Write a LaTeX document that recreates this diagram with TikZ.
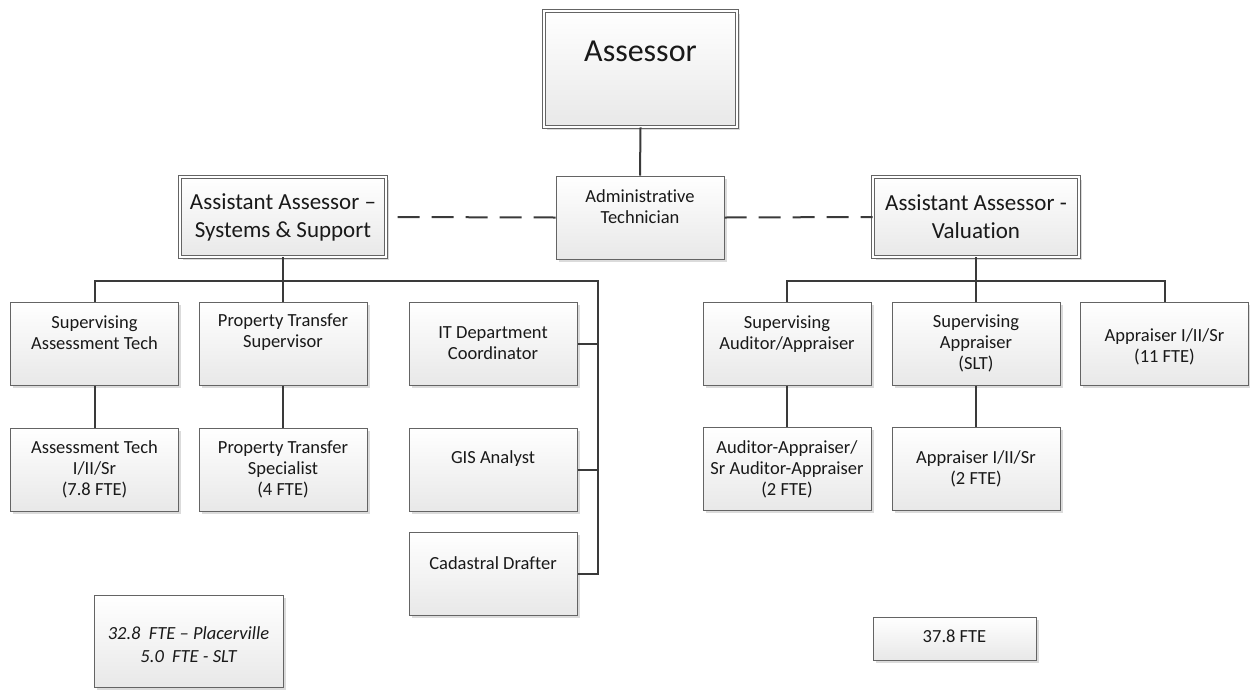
\documentclass[tikz,border=0pt]{standalone}
\usepackage{fontspec}
\setmainfont{Carlito}[Ligatures={NoCommon}]
\usetikzlibrary{shadows}
\definecolor{boxline}{HTML}{646464}
\definecolor{linkline}{HTML}{3A3A3A}
\begin{document}
\begin{tikzpicture}[x=1pt, y=-1pt]
        \tikzset{
          unit/.style = {draw=boxline, line width=1pt, inner sep=0pt, top color=white, bottom color=black!9,
                         minimum width=168pt, minimum height=83pt,
                         drop shadow={shadow xshift=2.5pt, shadow yshift=-2.5pt, fill=black!40, opacity=0.35}},
          boss/.style = {unit, double=white, double distance=2.4pt, line width=0.8pt},
          tx/.style = {align=center, inner sep=0pt, text=black!90, font=\fontsize{18.5}{21}\selectfont},
          link/.style = {draw=linkline, line width=2pt},
          staff/.style = {link, dash pattern=on 22pt off 12pt}
        }
        \useasboundingbox (0,0) rectangle (1250,689);

        % top
        \node[boss, minimum width=193pt, minimum height=116pt,
              label={[tx, font=\fontsize{32}{38}\selectfont, yshift=18pt]center:Assessor}] (asr) at (640.5,69) {};
        \node[unit, label={[tx, yshift=11pt]center:{Administrative\\Technician}}] (adm) at (640,217.5) {};
        \node[boss, minimum width=206pt, minimum height=80pt,
              label={[tx, font=\fontsize{23}{28}\selectfont]center:{Assistant Assessor --\\Systems \& Support}}] (laa) at (283,217) {};
        \node[boss, minimum width=206pt, minimum height=80pt,
              label={[tx, font=\fontsize{23}{28}\selectfont]center:{Assistant Assessor -\\Valuation}}] (raa) at (976,217) {};

        % systems & support
        \node[unit, label={[tx, yshift=11pt]center:{Supervising\\Assessment Tech}}] (sat) at (94.5,343.5) {};
        \node[unit, label={[tx, yshift=11pt]center:{Property Transfer\\Supervisor}}] (pts) at (283,343.5) {};
        \node[unit, label={[tx]center:{IT Department\\Coordinator}}] (itc) at (493,343.5) {};
        \node[unit, label={[tx]center:{Assessment Tech\\I/II/Sr\\(7.8 FTE)}}] (ast) at (94.5,469.5) {};
        \node[unit, label={[tx]center:{Property Transfer\\Specialist\\(4 FTE)}}] (psp) at (283,469.5) {};
        \node[unit, label={[tx, yshift=11pt]center:GIS Analyst}] (gis) at (493,469.5) {};
        \node[unit, label={[tx, yshift=10.5pt]center:Cadastral Drafter}] (cad) at (493,573.5) {};

        % valuation
        \node[unit, label={[tx, yshift=9pt]center:{Supervising\\Auditor/Appraiser}}] (saa) at (787,343.5) {};
        \node[unit, label={[tx]center:{Supervising\\Appraiser\\(SLT)}}] (sap) at (976,343.5) {};
        \node[unit, label={[tx, yshift=-3pt]center:{Appraiser I/II/Sr\\(11 FTE)}}] (apr) at (1164.5,344) {};
        \node[unit, label={[tx]center:{Auditor-Appraiser/\\Sr Auditor-Appraiser\\(2 FTE)}}] (aap) at (787,469) {};
        \node[unit, label={[tx]center:{Appraiser I/II/Sr\\(2 FTE)}}] (ap2) at (976,469) {};

        % totals
        \node[unit, minimum width=189pt, minimum height=92pt,
              label={[tx, font=\fontsize{18.5}{23}\itshape, yshift=-3.5pt]center:{32.8~~FTE -- Placerville\\5.0~~FTE - SLT}}] (ftl) at (188.5,641) {};
        \node[unit, minimum width=163pt, minimum height=43pt,
              label={[tx, yshift=2.5pt]center:37.8 FTE}] (ftr) at (954.5,638.5) {};

        % connectors
        \coordinate (lb) at (283,281);
        \coordinate (rail) at (598,281);
        \coordinate (rb) at (976,281);
        \draw[link] (asr.south) -- (adm.north);
        \draw[staff] (adm.west) -- (laa.east);
        \draw[staff] (adm.east) -- (raa.west);
        \draw[link] (laa.south) -- (lb);
        \draw[link] (sat.north) |- (lb) -- (pts.north);
        \draw[link] (lb) -- (rail) |- (cad.east);
        \draw[link] (itc.east) -- (itc.east -| rail);
        \draw[link] (gis.east) -- (gis.east -| rail);
        \draw[link] (sat) -- (ast);
        \draw[link] (pts) -- (psp);
        \draw[link] (raa.south) -- (rb);
        \draw[link] (saa.north) |- (rb) -| (apr.north);
        \draw[link] (rb) -- (sap.north);
        \draw[link] (saa) -- (aap);
        \draw[link] (sap) -- (ap2);
\end{tikzpicture}
\end{document}
